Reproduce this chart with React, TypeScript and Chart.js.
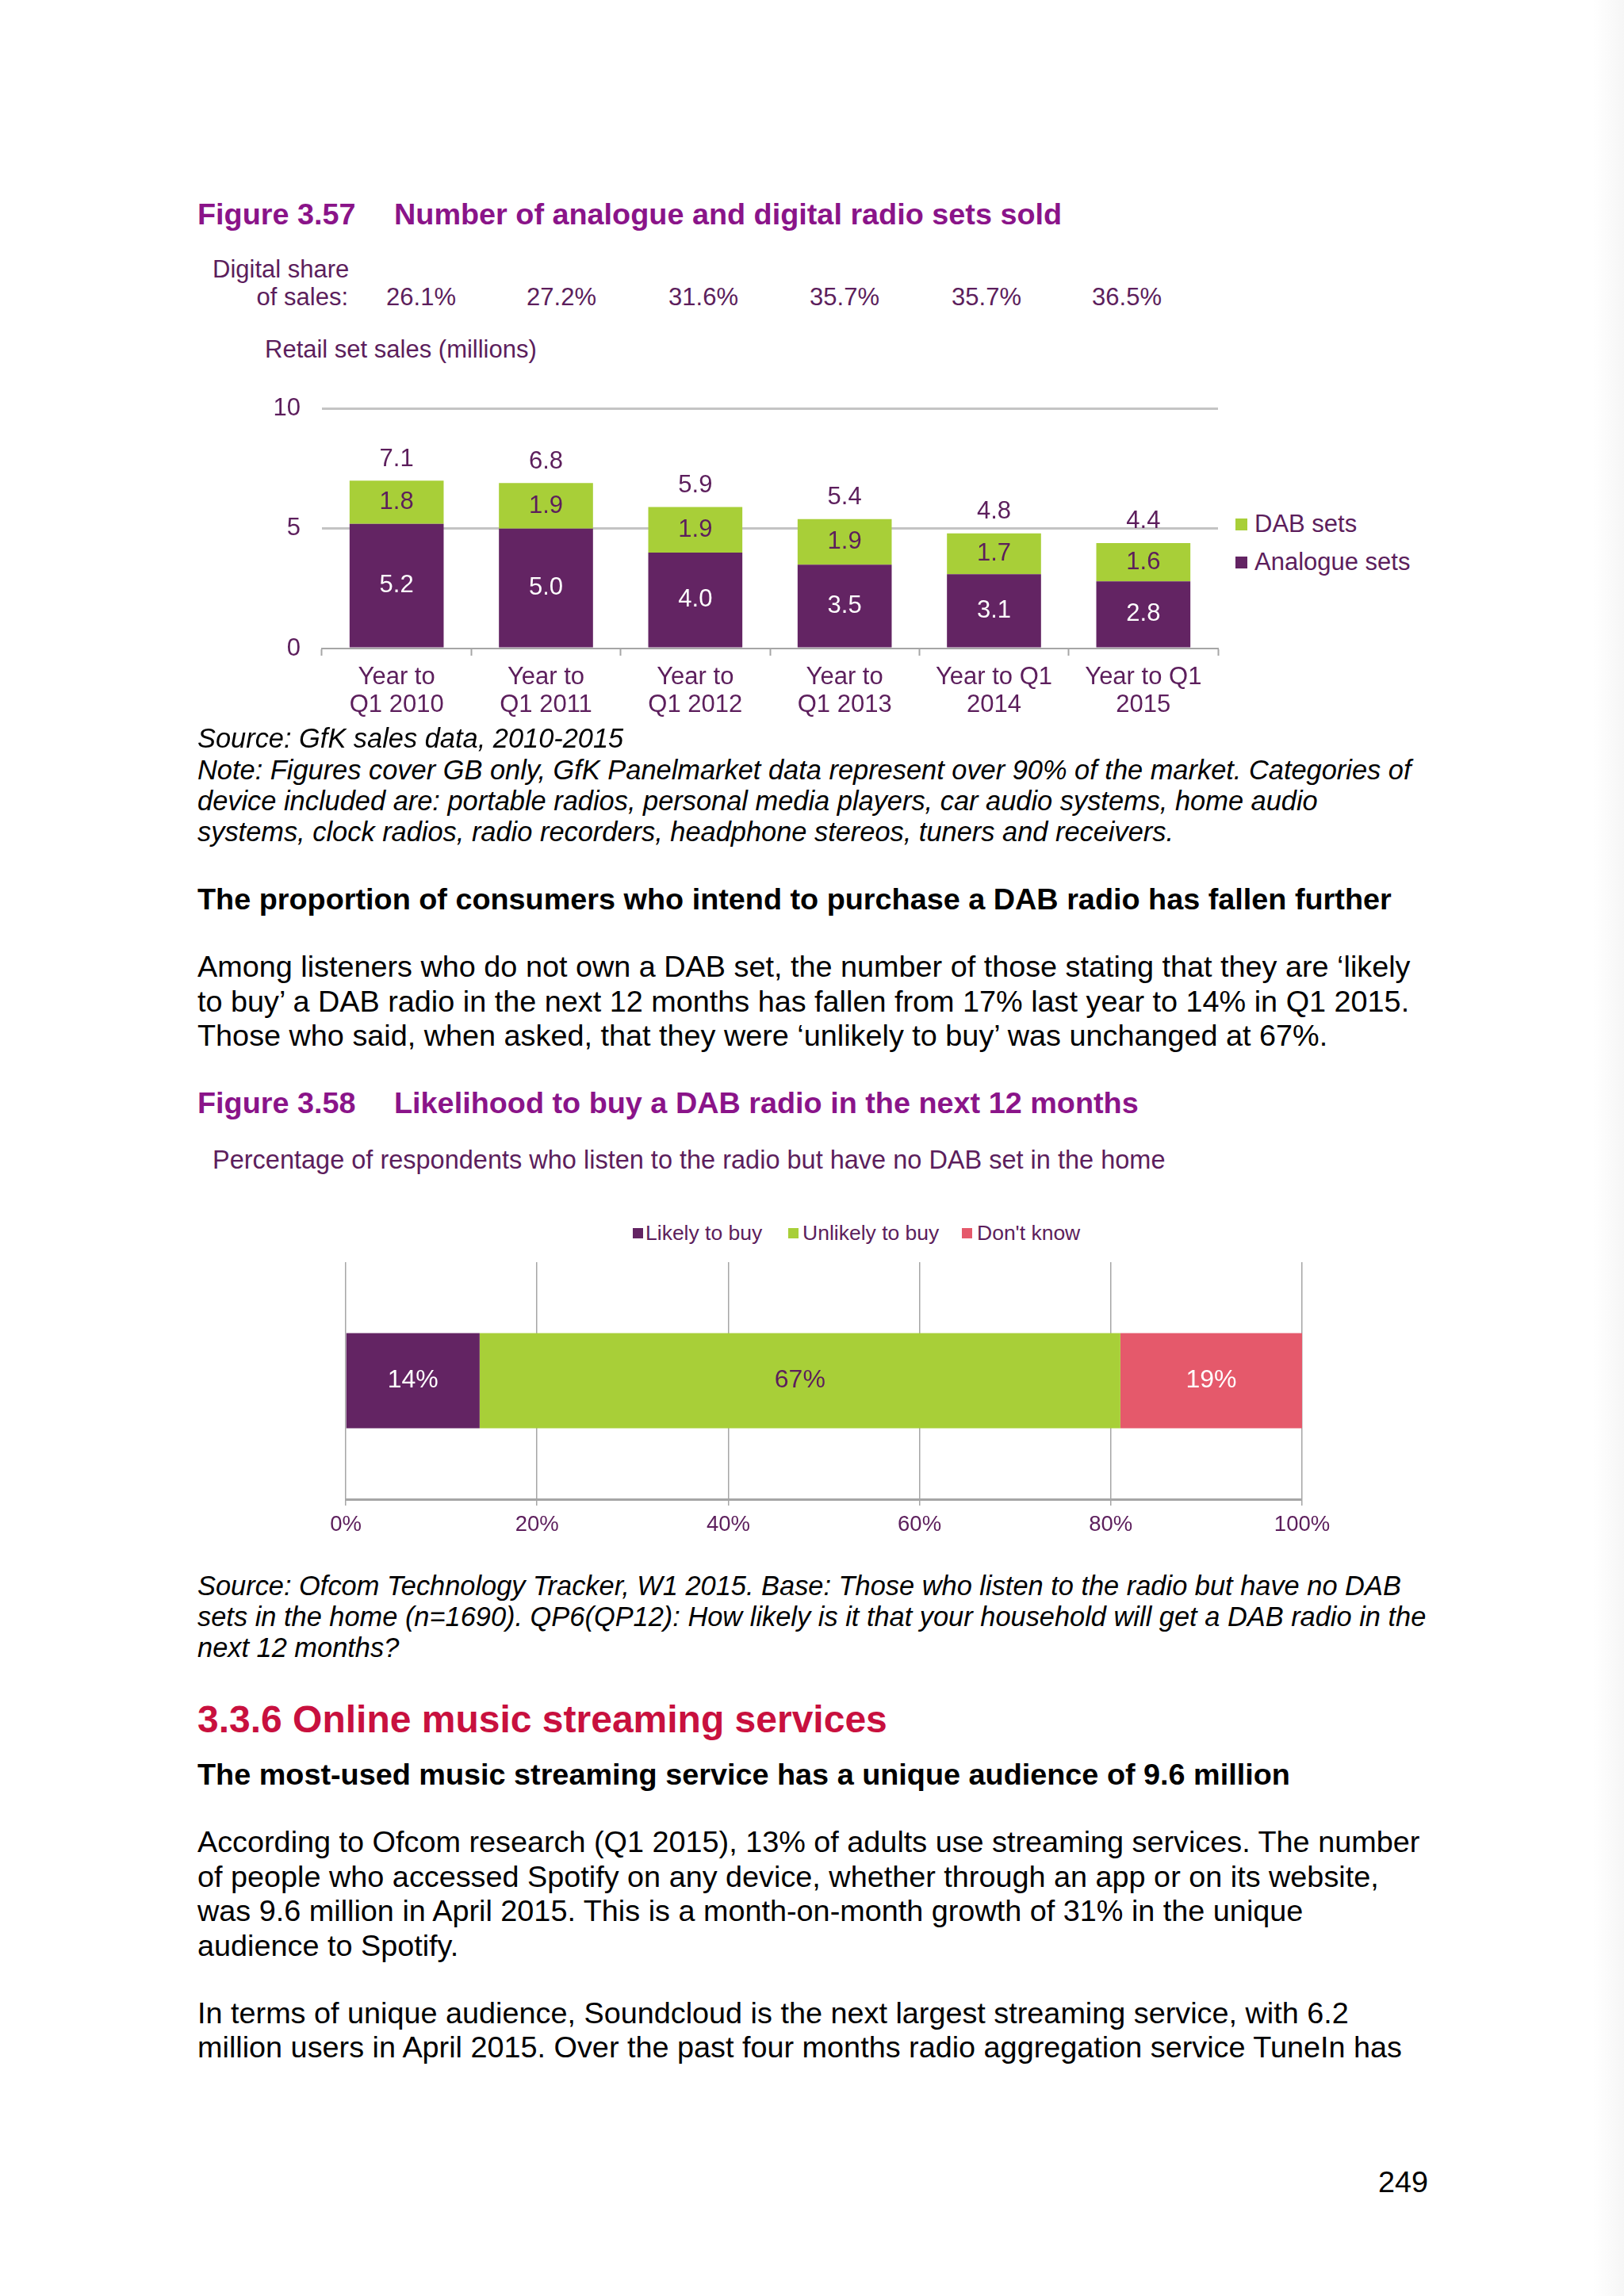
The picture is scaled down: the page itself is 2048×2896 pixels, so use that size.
import React, { useEffect, useRef } from 'react';
import { Chart, registerables } from 'chart.js';

Chart.register(...registerables);

// ---------- data ----------
const YEAR_LABELS: string[][] = [
  ['Year to', 'Q1 2010'],
  ['Year to', 'Q1 2011'],
  ['Year to', 'Q1 2012'],
  ['Year to', 'Q1 2013'],
  ['Year to Q1', '2014'],
  ['Year to Q1', '2015'],
];
const ANALOGUE_SETS = [5.2, 5.0, 4.0, 3.5, 3.1, 2.8];
const DAB_SETS = [1.8, 1.9, 1.9, 1.9, 1.7, 1.6];
const TOTAL_SETS = [7.1, 6.8, 5.9, 5.4, 4.8, 4.4];
const DIGITAL_SHARE = [26.1, 27.2, 31.6, 35.7, 35.7, 36.5];
const SALES_TICKS = [0, 5, 10];

const LIKELIHOOD_LABELS = ['Likely to buy', 'Unlikely to buy', "Don't know"];
const LIKELIHOOD_VALUES = [14, 67, 19];
const PERCENT_TICKS = [0, 20, 40, 60, 80, 100];

// ---------- styles ----------
const FONT = '"Liberation Sans", Arial, Helvetica, sans-serif';
const PURPLE = '#632463';
const GREEN = '#a8cf38';
const PINK = '#e5596b';
const TXT = '#5c1e5c';
const TITLE = '#8a1489';
const RED = '#c8103e';
const LIKELIHOOD_COLORS = [PURPLE, GREEN, PINK];
const LIKELIHOOD_TEXT = ['#ffffff', TXT, '#ffffff'];

Chart.defaults.font.family = FONT;

type TP = {
  x?: number;
  right?: number;
  cx?: number;
  cy: number;
  size: number;
  lh?: number;
  style?: React.CSSProperties;
  children: React.ReactNode;
};
const T = ({ x, right, cx, cy, size, lh, style, children }: TP) => {
  const L = lh ?? Math.round(size * 1.15);
  const s: React.CSSProperties = {
    position: 'absolute',
    top: cy - L / 2,
    fontSize: size,
    lineHeight: L + 'px',
    whiteSpace: 'nowrap',
    fontFamily: FONT,
    color: '#000',
    ...style,
  };
  if (cx !== undefined) {
    s.left = cx;
    s.transform = 'translateX(-50%)';
  } else if (right !== undefined) {
    s.right = 2048 - right;
    s.textAlign = 'right';
  } else {
    s.left = x;
  }
  return <div style={s}>{children}</div>;
};

const salesLabels = {
  id: 'salesLabels',
  afterDatasetsDraw(chart: any) {
    const ctx = chart.ctx;
    ctx.save();
    ctx.font = `31px ${FONT}`;
    ctx.textAlign = 'center';
    ctx.textBaseline = 'middle';
    chart.data.datasets.forEach((ds: any, di: number) => {
      const meta = chart.getDatasetMeta(di);
      meta.data.forEach((bar: any, i: number) => {
        const p = bar.getProps(['x', 'y', 'base'], true);
        ctx.fillStyle = di === 0 ? '#ffffff' : TXT;
        ctx.fillText(Number(ds.data[i]).toFixed(1), p.x, (p.y + p.base) / 2);
      });
    });
    const top = chart.getDatasetMeta(chart.data.datasets.length - 1);
    top.data.forEach((bar: any, i: number) => {
      const p = bar.getProps(['x', 'y'], true);
      ctx.fillStyle = TXT;
      ctx.fillText(TOTAL_SETS[i].toFixed(1), p.x, p.y - 27);
    });
    ctx.restore();
  },
};

const likelihoodLabels = {
  id: 'likelihoodLabels',
  afterDatasetsDraw(chart: any) {
    const ctx = chart.ctx;
    ctx.save();
    ctx.font = `32px ${FONT}`;
    ctx.textAlign = 'center';
    ctx.textBaseline = 'middle';
    chart.data.datasets.forEach((ds: any, di: number) => {
      const meta = chart.getDatasetMeta(di);
      meta.data.forEach((bar: any, i: number) => {
        const p = bar.getProps(['x', 'y', 'base'], true);
        ctx.fillStyle = LIKELIHOOD_TEXT[di];
        ctx.fillText(`${ds.data[i]}%`, (p.x + p.base) / 2, p.y);
      });
    });
    ctx.restore();
  },
};

const SalesChart = () => {
  const ref = useRef<HTMLCanvasElement>(null);
  useEffect(() => {
    if (!ref.current) return;
    const chart = new Chart(ref.current, {
      type: 'bar',
      data: {
        labels: YEAR_LABELS as any,
        datasets: [
          { label: 'Analogue sets', data: ANALOGUE_SETS, backgroundColor: PURPLE, categoryPercentage: 1, barPercentage: 0.63 },
          { label: 'DAB sets', data: DAB_SETS, backgroundColor: GREEN, categoryPercentage: 1, barPercentage: 0.63 },
        ],
      },
      options: {
        animation: false,
        responsive: false,
        maintainAspectRatio: false,
        devicePixelRatio: 1,
        layout: { padding: { left: 0, right: 14, top: 43, bottom: 0 } },
        plugins: { legend: { display: false }, tooltip: { enabled: false } },
        scales: {
          x: {
            stacked: true,
            grid: { display: true, drawOnChartArea: false, drawTicks: true, tickLength: 9, tickColor: '#a6a6a6', tickWidth: 2 },
            border: { display: true, color: '#a6a6a6', width: 2 },
            ticks: { color: TXT, font: { size: 31, lineHeight: 35 / 31 }, padding: 10, maxRotation: 0, autoSkip: false },
            afterFit: (s: any) => { s.height = 102; },
          },
          y: {
            stacked: true,
            min: 0,
            max: 10,
            afterBuildTicks: (s: any) => { s.ticks = SALES_TICKS.map((v) => ({ value: v })); },
            grid: {
              color: (c: any) => (c.tick && c.tick.value === 0 ? 'rgba(0,0,0,0)' : '#c4c4c4'),
              lineWidth: 3,
              drawTicks: false,
            },
            border: { display: false },
            ticks: { color: TXT, font: { size: 31 }, padding: 27 },
            afterFit: (s: any) => { s.width = 106; },
          },
        },
      } as any,
      plugins: [salesLabels],
    });
    return () => chart.destroy();
  }, []);
  return (
    <canvas
      ref={ref}
      width={1250}
      height={450}
      style={{ position: 'absolute', left: 300, top: 470, width: 1250, height: 450 }}
    />
  );
};

const LikelihoodChart = () => {
  const ref = useRef<HTMLCanvasElement>(null);
  useEffect(() => {
    if (!ref.current) return;
    const chart = new Chart(ref.current, {
      type: 'bar',
      data: {
        labels: [''],
        datasets: LIKELIHOOD_LABELS.map((l, i) => ({
          label: l,
          data: [LIKELIHOOD_VALUES[i]],
          backgroundColor: LIKELIHOOD_COLORS[i],
          categoryPercentage: 1,
          barPercentage: 0.401,
        })),
      },
      options: {
        indexAxis: 'y',
        animation: false,
        responsive: false,
        maintainAspectRatio: false,
        devicePixelRatio: 1,
        layout: { padding: { left: 136, right: 78, top: 12, bottom: 0 } },
        plugins: { legend: { display: false }, tooltip: { enabled: false } },
        scales: {
          x: {
            stacked: true,
            min: 0,
            max: 100,
            afterBuildTicks: (s: any) => { s.ticks = PERCENT_TICKS.map((v) => ({ value: v })); },
            grid: { color: '#a6a6a6', lineWidth: 1.5, drawTicks: true, tickLength: 8, tickColor: '#a6a6a6' },
            border: { display: true, color: '#a6a6a6', width: 3 },
            ticks: { color: TXT, font: { size: 27.5 }, padding: 8, callback: (v: any) => `${v}%` },
            afterFit: (s: any) => { s.height = 69; },
          },
          y: { stacked: true, display: false },
        },
      } as any,
      plugins: [likelihoodLabels],
    });
    return () => chart.destroy();
  }, []);
  return (
    <canvas
      ref={ref}
      width={1420}
      height={380}
      style={{ position: 'absolute', left: 300, top: 1580, width: 1420, height: 380 }}
    />
  );
};

const Sq = ({ x, cy, size, color }: { x: number; cy: number; size: number; color: string }) => (
  <div style={{ position: 'absolute', left: x, top: cy - size / 2, width: size, height: size, background: color }} />
);

const BODY = 37.8;
const BODY_LH = 44;
const NOTE = 34.4;
const NOTE_LH = 40;

export default function App() {
  const shareX = [531, 708, 887, 1065, 1244, 1421];
  return (
    <div
      style={{
        position: 'absolute',
        left: 0,
        top: 0,
        width: 2048,
        height: 2896,
        background: '#ffffff',
        overflow: 'hidden',
        fontFamily: FONT,
      }}
    >
      <div
        style={{
          position: 'absolute',
          right: 0,
          top: 0,
          width: 40,
          height: 2896,
          background: 'linear-gradient(to right, rgba(0,0,0,0), rgba(0,0,0,0.035))',
        }}
      />

      {/* Figure 3.57 */}
      <T x={249} cy={270} size={BODY} style={{ fontWeight: 'bold', color: TITLE }}>Figure 3.57</T>
      <T x={497} cy={270} size={BODY} style={{ fontWeight: 'bold', color: TITLE }}>Number of analogue and digital radio sets sold</T>

      <T x={268} cy={340} size={31} style={{ color: TXT }}>Digital share</T>
      <T right={439} cy={375} size={31} style={{ color: TXT }}>of sales:</T>
      {DIGITAL_SHARE.map((v, i) => (
        <T key={i} cx={shareX[i]} cy={375} size={31} style={{ color: TXT }}>{v.toFixed(1)}%</T>
      ))}
      <T x={334} cy={441} size={31} style={{ color: TXT }}>Retail set sales (millions)</T>

      <SalesChart />

      <Sq x={1558} cy={661} size={15} color={GREEN} />
      <T x={1582} cy={661} size={31} style={{ color: TXT }}>DAB sets</T>
      <Sq x={1558} cy={709} size={15} color={PURPLE} />
      <T x={1582} cy={709} size={31} style={{ color: TXT }}>Analogue sets</T>

      <T x={249} cy={931} size={NOTE} lh={NOTE_LH} style={{ fontStyle: 'italic' }}>Source: GfK sales data, 2010-2015</T>
      <T x={249} cy={971} size={NOTE} lh={NOTE_LH} style={{ fontStyle: 'italic' }}>Note: Figures cover GB only, GfK Panelmarket data represent over 90% of the market. Categories of</T>
      <T x={249} cy={1010} size={NOTE} lh={NOTE_LH} style={{ fontStyle: 'italic' }}>device included are: portable radios, personal media players, car audio systems, home audio</T>
      <T x={249} cy={1049} size={NOTE} lh={NOTE_LH} style={{ fontStyle: 'italic' }}>systems, clock radios, radio recorders, headphone stereos, tuners and receivers.</T>

      <T x={249} cy={1134} size={BODY} lh={BODY_LH} style={{ fontWeight: 'bold' }}>The proportion of consumers who intend to purchase a DAB radio has fallen further</T>

      <T x={249} cy={1219} size={BODY} lh={BODY_LH}>Among listeners who do not own a DAB set, the number of those stating that they are ‘likely</T>
      <T x={249} cy={1263} size={BODY} lh={BODY_LH}>to buy’ a DAB radio in the next 12 months has fallen from 17% last year to 14% in Q1 2015.</T>
      <T x={249} cy={1306} size={BODY} lh={BODY_LH}>Those who said, when asked, that they were ‘unlikely to buy’ was unchanged at 67%.</T>

      {/* Figure 3.58 */}
      <T x={249} cy={1391} size={BODY} style={{ fontWeight: 'bold', color: TITLE }}>Figure 3.58</T>
      <T x={497} cy={1391} size={BODY} style={{ fontWeight: 'bold', color: TITLE }}>Likelihood to buy a DAB radio in the next 12 months</T>
      <T x={268} cy={1463} size={32.5} style={{ color: TXT }}>Percentage of respondents who listen to the radio but have no DAB set in the home</T>

      {LIKELIHOOD_LABELS.map((l, i) => (
        <React.Fragment key={l}>
          <Sq x={[798, 994, 1213][i]} cy={1555} size={13} color={LIKELIHOOD_COLORS[i]} />
          <T x={[814, 1012, 1232][i]} cy={1555} size={26.5} style={{ color: TXT }}>{l}</T>
        </React.Fragment>
      ))}

      <LikelihoodChart />

      <T x={249} cy={2000} size={NOTE} lh={NOTE_LH} style={{ fontStyle: 'italic' }}>Source: Ofcom Technology Tracker, W1 2015. Base: Those who listen to the radio but have no DAB</T>
      <T x={249} cy={2039} size={NOTE} lh={NOTE_LH} style={{ fontStyle: 'italic' }}>sets in the home (n=1690). QP6(QP12): How likely is it that your household will get a DAB radio in the</T>
      <T x={249} cy={2078} size={NOTE} lh={NOTE_LH} style={{ fontStyle: 'italic' }}>next 12 months?</T>

      <T x={249} cy={2168} size={48} style={{ fontWeight: 'bold', color: RED }}>3.3.6 Online music streaming services</T>
      <T x={249} cy={2238} size={BODY} lh={BODY_LH} style={{ fontWeight: 'bold' }}>The most-used music streaming service has a unique audience of 9.6 million</T>

      <T x={249} cy={2323} size={BODY} lh={BODY_LH}>According to Ofcom research (Q1 2015), 13% of adults use streaming services. The number</T>
      <T x={249} cy={2367} size={BODY} lh={BODY_LH}>of people who accessed Spotify on any device, whether through an app or on its website,</T>
      <T x={249} cy={2410} size={BODY} lh={BODY_LH}>was 9.6 million in April 2015. This is a month-on-month growth of 31% in the unique</T>
      <T x={249} cy={2454} size={BODY} lh={BODY_LH}>audience to Spotify.</T>

      <T x={249} cy={2539} size={BODY} lh={BODY_LH}>In terms of unique audience, Soundcloud is the next largest streaming service, with 6.2</T>
      <T x={249} cy={2582} size={BODY} lh={BODY_LH}>million users in April 2015. Over the past four months radio aggregation service TuneIn has</T>

      <T x={1738} cy={2752} size={BODY} lh={BODY_LH}>249</T>
    </div>
  );
}
